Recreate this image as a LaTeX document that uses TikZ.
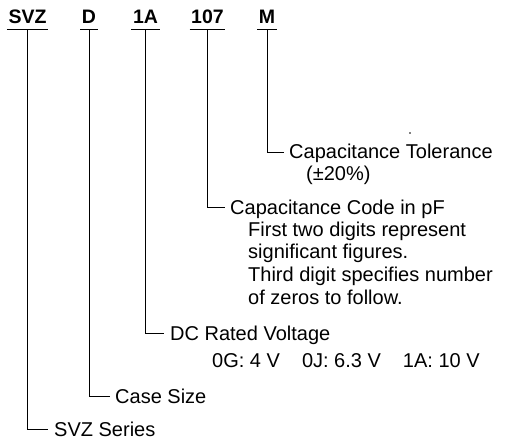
\documentclass[tikz,border=0pt]{standalone}
\usepackage{fontspec}
\setmainfont{Liberation Sans}
\usetikzlibrary{calc}
\begin{document}
\begin{tikzpicture}[x=1pt,y=-1pt,
  hdr/.style={font=\fontsize{19.5}{22}\selectfont\bfseries, inner sep=0pt, anchor=base},
  lbl/.style={font=\fontsize{20}{22}\selectfont, inner sep=0pt, anchor=base west},
  ln/.style={line width=0.8pt, black}]
\useasboundingbox (0,0) rectangle (506,441);
% header codes
\node[hdr] (hS) at (27.5,24) {SVZ};
\node[hdr] (hD) at (89,24) {D};
\node[hdr] (hA) at (145.5,24) {1A};
\node[hdr] (hC) at (207.5,24) {107};
\node[hdr] (hM) at (267,24) {M};
\foreach \n in {hS, hD, hA, hC, hM}{
  \draw[ln] ([xshift=-1.5pt, yshift=-5pt]\n.south west) -- ([xshift=1.5pt, yshift=-5pt]\n.south east);
}
% labels
\node[lbl] (tTol) at (289,159) {Capacitance Tolerance};
\node[lbl] (tPm) at (306,180) {(±20\%)};
\node[lbl] (tCode) at (230,214) {Capacitance Code in pF};
\node[lbl] (tF1) at (248,236) {First two digits represent};
\node[lbl] (tF2) at (248,258) {significant figures.};
\node[lbl] (tF3) at (248,281) {Third digit specifies number};
\node[lbl] (tF4) at (248,304) {of zeros to follow.};
\node[lbl] (tDC) at (170,340) {DC Rated Voltage};
\node[lbl] (tV) at (212,367) {0G: 4 V\hspace{22pt}0J: 6.3 V\hspace{22pt}1A: 10 V};
\node[lbl] (tCase) at (115,403) {Case Size};
\node[lbl] (tSer) at (54,436) {SVZ Series};
% stray mark of the scan
\fill (410,133) circle (0.9);
% connectors
\draw[ln] ([yshift=-5pt]hM.south) |- ($(tTol.base west)+(-5,-7)$);
\draw[ln] ([yshift=-5pt]hC.south) |- ($(tCode.base west)+(-5,-7)$);
\draw[ln] ([yshift=-5pt]hA.south) |- ($(tDC.base west)+(-6,-7)$);
\draw[ln] ([yshift=-5pt]hD.south) |- ($(tCase.base west)+(-5,-7)$);
\draw[ln] ([yshift=-5pt]hS.south) |- ($(tSer.base west)+(-6,-7)$);
\end{tikzpicture}
\end{document}
